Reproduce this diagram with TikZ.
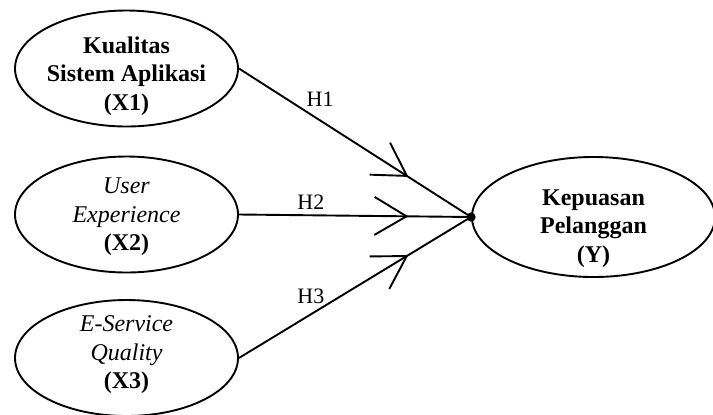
\documentclass[tikz,border=0pt]{standalone}
\usepackage{fontspec}
\setmainfont{Liberation Serif}
\usetikzlibrary{arrows.meta,decorations.markings,shapes.geometric}

\tikzset{
  construct/.style={ellipse, draw, line width=0.95pt, inner sep=0pt,
    minimum width=111.5pt, minimum height=58pt},
  conlabel/.style={align=center, inner sep=0pt,
    font=\fontsize{12}{14.25}\selectfont\bfseries},
  hypo/.style={line width=0.95pt, postaction={decorate},
    decoration={markings, mark=at position 0.73 with
      {\arrow{Straight Barb[length=16pt,width=19pt,line width=0.95pt]}}}},
  hlabel/.style={font=\fontsize{11}{13}\selectfont, inner sep=0pt}
}

\begin{document}
\begin{tikzpicture}[x=0.5pt, y=-0.5pt]
        % coordinates in pixels of the 713 x 414 reference
        \useasboundingbox (0,0) rectangle (713,414);
        \node[construct, label={[conlabel, yshift=-3.7pt]center:{Kualitas\\Sistem Aplikasi\\(X1)}}] (X1) at (126.5,68.5) {};
        \node[construct, label={[conlabel, yshift=-1.3pt]center:{{\mdseries\itshape User}\\{\mdseries\itshape Experience}\\(X2)}}] (X2) at (126.5,214.5) {};
        \node[construct, label={[conlabel, yshift=1.5pt]center:{{\mdseries\itshape E-Service}\\{\mdseries\itshape Quality}\\(X3)}}] (X3) at (126.5,358) {};
        \node[construct, minimum width=121.5pt, minimum height=60pt,
              label={[conlabel, yshift=-5.7pt]center:{Kepuasan\\Pelanggan\\(Y)}}] (Y) at (593.5,217) {};
        % hypotheses
        \draw[hypo] (X1.east) -- node[hlabel, pos=0.35, above=6.3pt] {H1} (Y.west);
        \draw[hypo] (X2.east) -- node[hlabel, pos=0.31, above=2.6pt] {H2} (Y.west);
        \draw[hypo] (X3.east) -- node[hlabel, pos=0.31, above=4.8pt] {H3} (Y.west);
        \fill (Y.west) circle (2.3pt);
    \end{tikzpicture}
\end{document}
